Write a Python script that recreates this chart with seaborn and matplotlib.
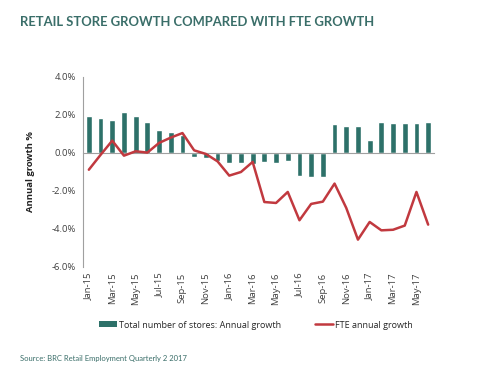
import numpy as np
import pandas as pd
import matplotlib
matplotlib.use("Agg")
import matplotlib.pyplot as plt
import seaborn as sns
from matplotlib.patches import Patch
from matplotlib.lines import Line2D

months = ["Jan-15", "Feb-15", "Mar-15", "Apr-15", "May-15", "Jun-15", "Jul-15", "Aug-15",
          "Sep-15", "Oct-15", "Nov-15", "Dec-15", "Jan-16", "Feb-16", "Mar-16", "Apr-16",
          "May-16", "Jun-16", "Jul-16", "Aug-16", "Sep-16", "Oct-16", "Nov-16", "Dec-16",
          "Jan-17", "Feb-17", "Mar-17", "Apr-17", "May-17", "Jun-17"]
stores = [1.95, 1.84, 1.75, 2.14, 1.93, 1.63, 1.21, 1.12, 0.96, -0.22, -0.27, -0.40,
          -0.54, -0.54, -0.56, -0.45, -0.50, -0.40, -1.19, -1.25, -1.25, 1.51, 1.44, 1.40,
          0.70, 1.61, 1.58, 1.58, 1.58, 1.65]
fte = [-0.88, -0.10, 0.65, -0.14, 0.09, 0.02, 0.53, 0.81, 1.05, 0.14, -0.05, -0.44,
       -1.19, -1.00, -0.47, -2.58, -2.63, -2.05, -3.54, -2.68, -2.56, -1.61, -2.89, -4.56,
       -3.63, -4.07, -4.04, -3.82, -2.05, -3.77]
yticks = [4, 2, 0, -2, -4, -6]

bar_color = "#2d7169"
line_color = "#c1393f"
teal_text = "#3a6e69"

sns.set_style("white")
plt.rcParams["font.family"] = ["Open Sans", "DejaVu Sans"]

fig = plt.figure(figsize=(4.8, 3.77), dpi=100)
ax = fig.add_axes([83 / 480, 1 - 267 / 377, (434 - 83) / 480, (267 - 77) / 377])

df = pd.DataFrame({"month": months, "stores": stores, "fte": fte, "idx": np.arange(len(months))})
sns.barplot(data=df, x="month", y="stores", order=months, color=bar_color,
            width=0.5, saturation=1, ax=ax, zorder=2)
sns.lineplot(data=df, x="idx", y="fte", color=line_color, linewidth=1.8, ax=ax, zorder=3)

ax.set_xlim(-0.5, len(months) - 0.5)
ax.set_ylim(-6, 4)
ax.set_yticks(yticks)
ax.set_yticklabels([f"{v:.1f}%" for v in yticks], fontsize=6.8, color="#404040")
ax.set_ylabel("Annual growth %", fontsize=6.8, fontweight="bold", color="#222222", labelpad=12)
ax.set_xlabel("")

for s in ["top", "right"]:
    ax.spines[s].set_visible(False)
ax.spines["left"].set_color("#a0a0a0")
ax.spines["left"].set_linewidth(0.8)
ax.spines["bottom"].set_position(("data", 0))
ax.spines["bottom"].set_color("#a0a0a0")
ax.spines["bottom"].set_linewidth(0.8)
ax.set_xticks(np.arange(-0.5, len(months), 2))
ax.set_xticklabels([])
ax.tick_params(axis="x", length=3, color="#a0a0a0", width=0.8, direction="out")
ax.tick_params(axis="y", length=3, color="#a0a0a0", width=0.8, pad=2)

sec = ax.secondary_xaxis("bottom")
sec.set_xticks(np.arange(0, len(months), 2))
sec.set_xticklabels(months[::2], rotation=90, fontsize=6.8, color="#404040")
sec.tick_params(length=0, pad=4)
sec.spines["bottom"].set_visible(False)

handles = [Patch(facecolor=bar_color, edgecolor="none"),
           Line2D([0], [0], color=line_color, linewidth=1.8)]
fig.legend(handles, ["Total number of stores: Annual growth", "FTE annual growth"],
           loc="center", bbox_to_anchor=(0.533, 1 - 325 / 377), ncol=2, frameon=False,
           fontsize=6.5, handlelength=2.0, handleheight=0.6, handletextpad=0.2,
           columnspacing=3.8)

fig.text(20 / 480, 1 - 22 / 377, "RETAIL STORE GROWTH COMPARED WITH FTE GROWTH",
         fontsize=9.4, fontweight="bold", color=teal_text, family=["Lato", "DejaVu Sans"],
         ha="left", va="center")
fig.text(20 / 480, 1 - 359 / 377, "Source: BRC Retail Employment Quarterly 2 2017",
         fontsize=5.5, color=teal_text, family=["Lato", "DejaVu Sans"], ha="left", va="center")

fig.savefig("out.png", dpi=100)
